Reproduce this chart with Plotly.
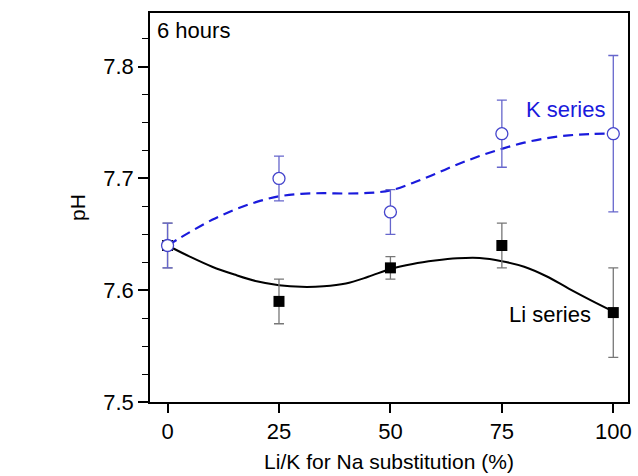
import plotly.graph_objects as go

# Measured data
x_vals = [0, 25, 50, 75, 100]
li_ph = [7.64, 7.59, 7.62, 7.64, 7.58]
li_err = [0.02, 0.02, 0.01, 0.02, 0.04]
k_ph = [7.64, 7.70, 7.67, 7.74, 7.74]
k_err = [0.02, 0.02, 0.02, 0.03, 0.07]

# Fitted curves
curve_x = [0, 5, 10, 15, 20, 25, 30, 35, 40, 45, 50, 55, 60, 65, 70, 75, 80, 85, 90, 95, 100]
li_curve = [7.640, 7.630, 7.621, 7.614, 7.608, 7.6045, 7.603, 7.6035, 7.606, 7.612, 7.619,
            7.6235, 7.6265, 7.6285, 7.6288, 7.626, 7.621, 7.6125, 7.6015, 7.591, 7.581]
k_curve = [7.640, 7.652, 7.663, 7.672, 7.679, 7.684, 7.6862, 7.6868, 7.6865, 7.687, 7.6893,
           7.696, 7.704, 7.7125, 7.720, 7.7265, 7.732, 7.736, 7.7385, 7.7398, 7.740]

x_ticks = [0, 25, 50, 75, 100]
y_ticks = [7.5, 7.6, 7.7, 7.8]

fig = go.Figure()

fig.add_trace(go.Scatter(x=curve_x, y=li_curve, mode="lines", line_shape="spline",
                         line=dict(color="black", width=2), showlegend=False, hoverinfo="skip"))
fig.add_trace(go.Scatter(x=curve_x, y=k_curve, mode="lines", line_shape="spline",
                         line=dict(color="#1a1adc", width=2.2, dash="10px,6px"),
                         showlegend=False, hoverinfo="skip"))
fig.add_trace(go.Scatter(x=x_vals, y=li_ph, mode="markers", name="Li series",
                         marker=dict(symbol="square", size=11, color="black"),
                         error_y=dict(type="data", array=li_err, visible=True,
                                      color="#777777", thickness=1.3, width=5),
                         showlegend=False))
fig.add_trace(go.Scatter(x=x_vals, y=k_ph, mode="markers", name="K series",
                         marker=dict(symbol="circle", size=12, color="white",
                                     line=dict(color="#4444cc", width=1.3)),
                         error_y=dict(type="data", array=k_err, visible=True,
                                      color="#6666cc", thickness=1.3, width=5),
                         showlegend=False))

fig.add_annotation(x=0.01, y=0.954, xref="paper", yref="paper", text="6 hours",
                   showarrow=False, xanchor="left", yanchor="middle",
                   font=dict(size=22, color="black"))
fig.add_annotation(x=89.2, y=7.762, text="K series", showarrow=False,
                   xanchor="center", yanchor="middle", font=dict(size=22, color="#1a1adc"))
fig.add_annotation(x=85.8, y=7.578, text="Li series", showarrow=False,
                   xanchor="center", yanchor="middle", font=dict(size=22, color="black"))

fig.update_layout(
    width=638, height=476,
    margin=dict(l=150, r=6, t=13, b=74),
    paper_bgcolor="white", plot_bgcolor="white",
    font=dict(family="Liberation Sans, Arial, sans-serif", size=21, color="black"),
)
fig.update_xaxes(range=[-3.94, 103.3], tickvals=x_ticks, ticktext=[str(v) for v in x_ticks],
                 ticks="outside", ticklen=9, tickwidth=1.5, tickcolor="black",
                 showline=True, linecolor="black", linewidth=1.5, mirror=True,
                 showgrid=False, zeroline=False, tickfont=dict(size=22),
                 title=dict(text="Li/K for Na substitution (%)", font=dict(size=21), standoff=11))
fig.update_yaxes(range=[7.5, 7.848], tickvals=y_ticks, ticktext=[f"{v:.1f}" for v in y_ticks],
                 ticks="outside", ticklen=10, tickwidth=1.5, tickcolor="black",
                 minor=dict(dtick=0.025, tick0=7.5, ticks="outside", ticklen=6,
                            tickwidth=1.2, tickcolor="black", showgrid=False),
                 showline=True, linecolor="black", linewidth=1.5, mirror=True,
                 showgrid=False, zeroline=False, tickfont=dict(size=22),
                 title=dict(text="pH", font=dict(size=21), standoff=12))

fig.write_html("out.html", config={"displayModeBar": False},
               post_script="document.body.style.margin='0';document.body.style.overflow='hidden';")
